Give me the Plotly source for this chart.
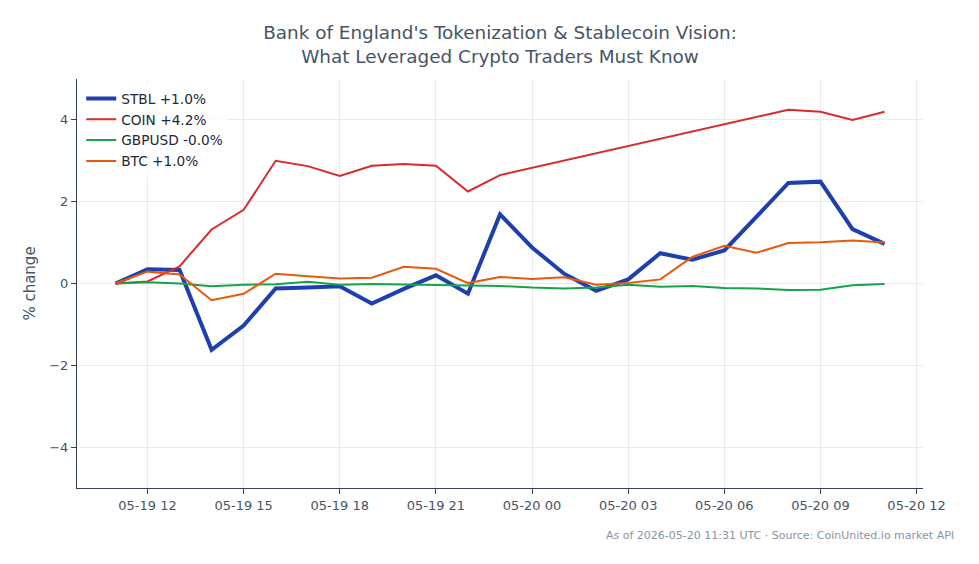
import plotly.graph_objects as go
import pandas as pd

times = pd.date_range("2026-05-19 11:00", "2026-05-20 11:00", freq="h")

stbl = [0.0, 0.35, 0.33, -1.62, -1.03, -0.12, -0.10, -0.07, -0.49, -0.13, 0.20, -0.25,
        1.69, 0.88, 0.24, -0.18, 0.10, 0.74, 0.58, 0.81, 1.63, 2.46, 2.49, 1.33, 0.97]
coin = [0.0, 0.05, 0.42, 1.32, 1.80, 3.00, 2.87, 2.63, 2.88, 2.92, 2.88, 2.25,
        2.65, None, None, None, None, None, None, None, None, 4.25, 4.20, 4.00, 4.20]
gbpusd = [0.0, 0.03, 0.0, -0.07, -0.03, -0.02, 0.04, -0.03, -0.01, -0.02, -0.04, -0.04,
          -0.06, -0.10, -0.12, -0.10, -0.03, -0.08, -0.06, -0.11, -0.12, -0.16, -0.15, -0.04, -0.01]
btc = [0.0, 0.29, 0.22, -0.41, -0.25, 0.24, 0.18, 0.12, 0.14, 0.41, 0.36, 0.01,
       0.16, 0.11, 0.15, -0.03, 0.01, 0.10, 0.65, 0.92, 0.75, 0.99, 1.01, 1.05, 1.00]

series = [
    ("STBL", stbl, "#1e40af", 4),
    ("COIN", coin, "#d92b2b", 2),
    ("GBPUSD", gbpusd, "#16a34a", 2),
    ("BTC", btc, "#ea580c", 2),
]

title_lines = ["Bank of England's Tokenization & Stablecoin Vision:",
               "What Leveraged Crypto Traders Must Know"]
source_note = "As of 2026-05-20 11:31 UTC · Source: CoinUnited.io market API"

FONT = "DejaVu Sans"
TEXT = "#475467"
AXIS = "#344054"
GRID = "#e8ebf0"

fig = go.Figure()
for name, vals, color, width in series:
    last = [v for v in vals if v is not None][-1]
    fig.add_trace(go.Scatter(
        x=times, y=vals, mode="lines", name=f"{name} {last:+.1f}%",
        line=dict(color=color, width=width), connectgaps=True,
    ))

fig.add_shape(type="line", xref="paper", x0=0, x1=1, yref="y", y0=0, y1=0,
              line=dict(color="#94a3b8", width=1, dash="dash"), layer="below")

fig.update_layout(
    width=979, height=564,
    margin=dict(l=77, r=56, t=79, b=76),
    paper_bgcolor="white", plot_bgcolor="white",
    font=dict(family=FONT, size=13, color=TEXT),
    title=dict(text="<br>".join(title_lines), x=0.5, xref="paper",
               y=0.93, yref="container", yanchor="top",
               font=dict(family=FONT, size=18.4, color=TEXT)),
    showlegend=True,
    legend=dict(x=0.005, y=0.99, xanchor="left", yanchor="top",
                bgcolor="rgba(255,255,255,0.8)", borderwidth=0,
                font=dict(family=FONT, size=13.7, color="#1f2937"),
                itemwidth=30, tracegroupgap=0),
    annotations=[dict(text=source_note, xref="paper", yref="paper",
                      x=1.039, y=-0.115, xanchor="right", yanchor="middle",
                      showarrow=False, font=dict(family=FONT, size=11, color="#8a94a3"))],
)

fig.update_xaxes(
    range=[pd.Timestamp("2026-05-19 09:48"), pd.Timestamp("2026-05-20 12:12")],
    tickformat="%m-%d %H", dtick=3 * 3600 * 1000, tick0="2026-05-19 00:00",
    showline=True, linecolor=AXIS, linewidth=1, mirror=False,
    ticks="outside", ticklen=5, tickcolor=AXIS,
    showgrid=True, gridcolor=GRID, gridwidth=1, zeroline=False,
    tickfont=dict(family=FONT, size=13, color=TEXT),
)
fig.update_yaxes(
    range=[-5, 5], dtick=2, tick0=0,
    showline=True, linecolor=AXIS, linewidth=1, mirror=False,
    ticks="outside", ticklen=5, tickcolor=AXIS,
    showgrid=True, gridcolor=GRID, gridwidth=1, zeroline=False,
    tickfont=dict(family=FONT, size=13, color=TEXT),
    title=dict(text="% change", font=dict(family=FONT, size=15, color=TEXT), standoff=9),
)

fig.write_html("out.html")
